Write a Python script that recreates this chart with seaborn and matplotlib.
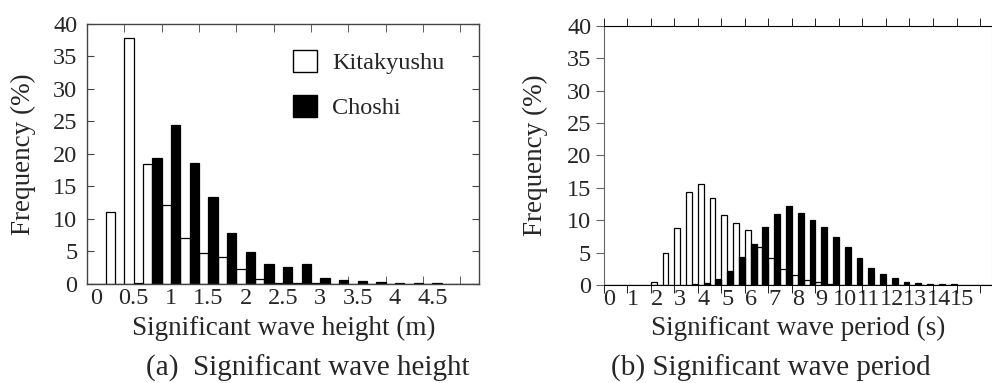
import pandas as pd
import matplotlib
matplotlib.use("Agg")
from matplotlib import pyplot as plt
from matplotlib.patches import Patch
import seaborn as sns

# ---- data ----
stations = ["Kitakyushu", "Choshi"]
station_colors = {"Kitakyushu": "white", "Choshi": "black"}

# significant wave height classes (m)
height_bins = ["0", "0.25", "0.5", "0.75", "1", "1.25", "1.5", "1.75", "2", "2.25", "2.5",
               "2.75", "3", "3.25", "3.5", "3.75", "4", "4.25", "4.5", "4.75", "5"]
kita_height = [0, 11.0, 37.8, 18.5, 12.1, 7.0, 4.7, 4.15, 2.3, 0.7, 0.2,
               0.1, 0.08, 0.05, 0.05, 0.03, 0.03, 0.02, 0.02, 0.0, 0.0]
choshi_height = [0, 0, 0.1, 19.4, 24.5, 18.6, 13.4, 7.8, 4.9, 3.1, 2.6,
                 3.1, 0.95, 0.6, 0.4, 0.25, 0.2, 0.15, 0.1, 0.05, 0.05]

# significant wave period classes (s)
period_bins = ["0", "0.5", "1", "1.5", "2", "2.5", "3", "3.5", "4", "4.5", "5",
               "5.5", "6", "6.5", "7", "7.5", "8", "8.5", "9", "9.5", "10",
               "10.5", "11", "11.5", "12", "12.5", "13", "13.5", "14", "14.5", "15",
               "15.5", "16"]
kita_period = [0, 0, 0, 0, 0.45, 5.0, 8.85, 14.3, 15.55, 13.4, 10.8,
               9.5, 8.45, 5.8, 4.1, 2.4, 1.5, 0.7, 0.5, 0.1, 0,
               0, 0, 0, 0, 0, 0, 0, 0, 0, 0,
               0, 0]
choshi_period = [0, 0, 0, 0, 0, 0, 0, 0.1, 0.35, 1.0, 2.2,
                 4.3, 6.3, 8.9, 11.0, 12.2, 11.1, 10.0, 9.0, 7.4, 5.9,
                 4.1, 2.6, 1.7, 1.1, 0.4, 0.3, 0.2, 0.1, 0.08, 0.06,
                 0.05, 0.04]


def long_table(bins, kita, choshi):
    return pd.DataFrame({
        "bin": bins + bins,
        "freq": kita + choshi,
        "station": [stations[0]] * len(bins) + [stations[1]] * len(bins),
    })


df_h = long_table(height_bins, kita_height, choshi_height)
df_t = long_table(period_bins, kita_period, choshi_period)

sns.set_style("white")
plt.rcParams["font.family"] = ["Liberation Serif", "DejaVu Serif"]
plt.rcParams["font.size"] = 17

fig = plt.figure(figsize=(9.92, 3.83), dpi=100)
ax1 = fig.add_axes([0.0877, 0.2585, 0.3952, 0.6789])
ax2 = fig.add_axes([0.6086, 0.2559, 0.3912, 0.6762])

for ax, df, bins in [(ax1, df_h, height_bins), (ax2, df_t, period_bins)]:
    sns.barplot(data=df, x="bin", y="freq", hue="station", order=bins,
                hue_order=stations, palette=station_colors, saturation=1,
                edgecolor="black", linewidth=0.9, width=1.0, gap=0,
                legend=False, ax=ax)
    n = len(bins)
    ax.set_xlim(-0.5, n - 0.5)
    ax.set_ylim(0, 40)
    ax.set_yticks(range(0, 41, 5))
    ax.set_xticks(range(0, n - 1, 2), bins[0:n - 1:2])
    ax.set_xticks([i - 0.5 for i in range(0, n, 2)], minor=True)
    ax.tick_params(axis="x", which="major", length=0, pad=3, labelsize=17.5)
    ax.tick_params(axis="y", labelsize=17.5)
    ax.set_ylabel("Frequency (%)", fontsize=19.5, va="center")

# panel (a): ticks inside, grey frame
for s in ax1.spines.values():
    s.set_color("#444")
    s.set_linewidth(1.0)
ax1.tick_params(axis="x", which="minor", direction="in", length=6,
                top=True, bottom=True, color="#444")
ax1.tick_params(axis="y", direction="in", length=5, left=True, right=True,
                pad=7, color="#444")
ax1.set_xlabel("Significant wave height (m)", fontsize=19.5, va="center")
ax1.xaxis.set_label_coords(0.5026, -0.169)
ax1.yaxis.set_label_coords(-0.163, 0.5)

handles = [Patch(facecolor=station_colors[s], edgecolor="black", linewidth=1.0, label=s)
           for s in stations]
ax1.legend(handles=handles, loc="upper left", bbox_to_anchor=(0.5255, 0.9),
           frameon=False, fontsize=17.5, handlelength=1.0, handleheight=1.0,
           handletextpad=0.6, labelspacing=0.85, borderpad=0, borderaxespad=0)

# panel (b): ticks outside
ax2.spines["left"].set_color("#666")
ax2.spines["right"].set_color("#bbb")
ax2.spines["top"].set_color("black")
ax2.spines["bottom"].set_color("black")
ax2.tick_params(axis="x", which="minor", direction="out", length=6,
                top=True, bottom=True, color="black")
ax2.tick_params(axis="y", direction="out", length=6, left=True, right=False,
                pad=3, color="#666")
ax2.set_xlabel("Significant wave period (s)", fontsize=19.5, va="center")
ax2.xaxis.set_label_coords(0.502, -0.166)
ax2.yaxis.set_label_coords(-0.177, 0.502)

fig.text(0.31, 1 - 368 / 383, "(a)  Significant wave height", ha="center",
         va="center", fontsize=21)
fig.text(0.777, 1 - 368 / 383, "(b) Significant wave period", ha="center",
         va="center", fontsize=21)

fig.savefig("out.png", dpi=100)
